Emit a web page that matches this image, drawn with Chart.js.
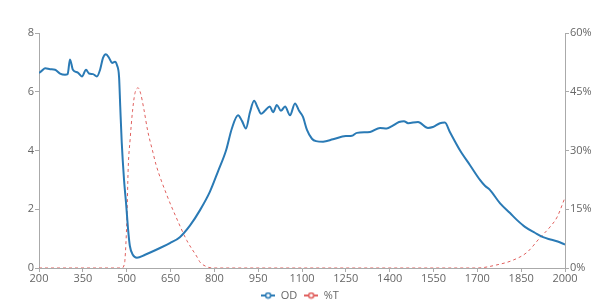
<!DOCTYPE html>
<html>
<head>
<meta charset="utf-8">
<script src="https://cdn.jsdelivr.net/npm/chart.js@4"></script>
<style>
  html, body { margin: 0; padding: 0; background: #fff; overflow: hidden; }
  #wrap { width: 600px; height: 311px; }
</style>
</head>
<body>
<div id="wrap"><canvas id="container"></canvas></div>
<script>
let odWavelength = [200, 210, 221, 238, 255, 272, 289, 298, 306, 316, 333, 347, 361, 371, 385, 398, 409, 419, 429, 440, 450, 460, 467, 474, 478, 483, 491, 498, 505, 511, 521, 535, 563, 614, 648, 682, 717, 751, 785, 813, 840, 860, 881, 895, 908, 922, 936, 949, 960, 973, 990, 1001, 1014, 1028, 1042, 1059, 1076, 1090, 1103, 1117, 1134, 1148, 1172, 1206, 1250, 1271, 1288, 1333, 1367, 1390, 1408, 1432, 1449, 1463, 1497, 1531, 1548, 1572, 1589, 1606, 1641, 1675, 1709, 1726, 1743, 1778, 1812, 1836, 1863, 1897, 1925, 1950, 1975, 2000];
let odValues = [6.64, 6.72, 6.8, 6.77, 6.75, 6.62, 6.58, 6.6, 7.1, 6.75, 6.65, 6.52, 6.75, 6.62, 6.6, 6.52, 6.75, 7.15, 7.28, 7.15, 6.98, 7.02, 6.9, 6.5, 5.5, 4.3, 3.0, 2.2, 1.3, 0.75, 0.45, 0.35, 0.45, 0.68, 0.85, 1.05, 1.45, 1.97, 2.6, 3.3, 4.0, 4.75, 5.2, 5.0, 4.75, 5.3, 5.69, 5.45, 5.25, 5.35, 5.5, 5.3, 5.55, 5.35, 5.5, 5.2, 5.6, 5.35, 5.15, 4.7, 4.4, 4.32, 4.3, 4.38, 4.49, 4.5, 4.6, 4.63, 4.77, 4.75, 4.83, 4.97, 5.0, 4.93, 4.97, 4.77, 4.8, 4.93, 4.95, 4.63, 4.0, 3.5, 3.0, 2.8, 2.66, 2.2, 1.87, 1.63, 1.4, 1.2, 1.05, 0.97, 0.9, 0.8];

let tWavelength = [200, 484, 490, 494, 501, 505, 512, 520, 528, 539, 548, 559, 572, 590, 600, 638, 672, 706, 741, 751, 775, 795, 1699, 1767, 1822, 1870, 1914, 1949, 1973, 2000];
let tValues = [0, 0, 0.5, 2, 13, 25, 33, 40, 44.5, 46, 44.5, 40.5, 35, 29.5, 26.5, 18.5, 12.5, 7, 2.8, 1.5, 0.3, 0, 0, 0.8, 2, 4, 7.7, 10.5, 13, 18];

let xTicks = [200, 350, 500, 650, 800, 950, 1100, 1250, 1400, 1550, 1700, 1850, 2000];

let colorOD = '#2a7ab5';
let colorT = '#e0605e';
let axisColor = '#aaaaaa';
let textColor = '#666666';

function makeIcon(color) {
  let c = document.createElement('canvas');
  c.width = 14;
  c.height = 8;
  let g = c.getContext('2d');
  g.strokeStyle = color;
  g.lineWidth = 2;
  g.beginPath();
  g.moveTo(0, 4);
  g.lineTo(14, 4);
  g.stroke();
  g.fillStyle = '#fff';
  g.lineWidth = 1.5;
  g.beginPath();
  g.arc(7, 4, 2.5, 0, Math.PI * 2);
  g.fill();
  g.stroke();
  return c;
}

let ctx = document.getElementById('container').getContext('2d');

let myChart = new Chart(ctx, {
  type: 'line',
  data: {
    datasets: [{
      label: 'OD',
      data: odWavelength.map((w, i) => ({x: w, y: odValues[i]})),
      borderColor: colorOD,
      backgroundColor: colorOD,
      borderWidth: 2,
      pointRadius: 0,
      pointHoverRadius: 0,
      pointStyle: makeIcon(colorOD),
      cubicInterpolationMode: 'monotone',
      yAxisID: 'y'
    }, {
      label: '%T',
      data: tWavelength.map((w, i) => ({x: w, y: tValues[i]})),
      borderColor: colorT,
      backgroundColor: colorT,
      borderWidth: 1,
      borderDash: [3, 3],
      pointRadius: 0,
      pointHoverRadius: 0,
      pointStyle: makeIcon(colorT),
      cubicInterpolationMode: 'monotone',
      yAxisID: 'y1'
    }]
  },
  options: {
    responsive: true,
    maintainAspectRatio: false,
    animation: false,
    layout: {
      padding: {top: 33, left: 0, right: 0, bottom: 0}
    },
    plugins: {
      tooltip: {enabled: false},
      legend: {
        position: 'bottom',
        labels: {
          usePointStyle: true,
          pointStyleWidth: 14,
          padding: 7,
          color: textColor,
          font: {family: 'Open Sans', size: 11}
        }
      }
    },
    scales: {
      x: {
        type: 'linear',
        min: 200,
        max: 2000,
        afterBuildTicks: (scale) => {
          scale.ticks = xTicks.map(v => ({value: v}));
        },
        afterFit: (scale) => { scale.height = 15; },
        grid: {drawOnChartArea: false, drawTicks: true, tickLength: 4, color: axisColor},
        border: {color: axisColor},
        ticks: {
          color: textColor,
          padding: 0,
          maxRotation: 0,
          autoSkip: false,
          font: {family: 'Open Sans', size: 11},
          callback: (v) => String(v)
        }
      },
      y: {
        position: 'left',
        min: 0,
        max: 8,
        afterFit: (scale) => { scale.width = 39; },
        grid: {drawOnChartArea: false, drawTicks: true, tickLength: 4, color: axisColor},
        border: {color: axisColor},
        ticks: {stepSize: 2, color: textColor, padding: 1, font: {family: 'Open Sans', size: 11}}
      },
      y1: {
        position: 'right',
        min: 0,
        max: 60,
        afterFit: (scale) => { scale.width = 35; },
        grid: {drawOnChartArea: false, drawTicks: true, tickLength: 4, color: axisColor},
        border: {color: axisColor},
        ticks: {
          stepSize: 15,
          color: textColor,
          padding: 1,
          font: {family: 'Open Sans', size: 11},
          callback: (v) => v + '%'
        }
      }
    }
  }
});
</script>
</body>
</html>
